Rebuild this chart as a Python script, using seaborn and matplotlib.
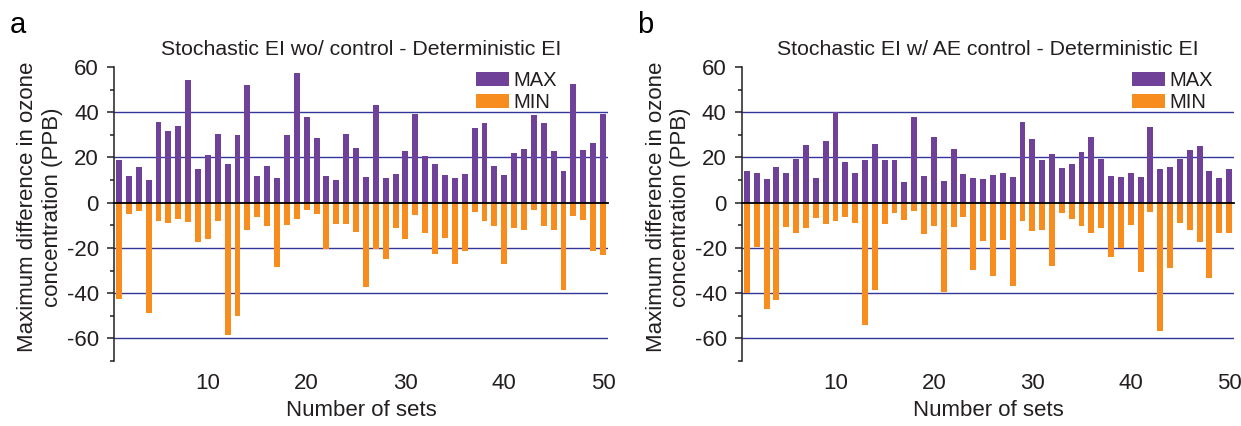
import numpy as np
import pandas as pd
import seaborn as sns
import matplotlib.pyplot as plt
from matplotlib.ticker import MultipleLocator

# Values (PPB), sets 1..50
sets = list(range(1, 51))

max_wo = [18.7, 11.9, 15.7, 10.1, 35.6, 31.6, 33.9, 54.1, 14.8, 21.0,
          30.2, 17.0, 29.8, 52.1, 12.0, 16.1, 10.7, 29.8, 57.2, 37.9,
          28.6, 12.0, 10.1, 30.4, 24.1, 11.4, 43.1, 10.8, 12.9, 22.8,
          39.3, 20.6, 17.0, 12.1, 10.7, 12.6, 33.0, 35.4, 16.4, 12.1,
          21.8, 23.9, 38.7, 35.3, 22.8, 13.9, 52.3, 23.1, 26.2, 39.1]
min_wo = [-42.8, -5.2, -3.7, -48.9, -8.0, -9.0, -7.0, -8.7, -17.5, -16.1,
          -8.0, -58.4, -50.1, -12.0, -6.3, -10.1, -28.6, -9.9, -7.0, -3.4,
          -5.2, -20.3, -9.3, -9.6, -12.9, -37.2, -20.3, -24.9, -11.4, -15.9,
          -5.3, -13.2, -22.8, -15.7, -27.3, -21.5, -4.3, -8.1, -10.2, -27.0,
          -11.1, -11.9, -3.3, -10.4, -11.9, -38.4, -6.1, -7.7, -21.3, -23.0]

max_ae = [13.8, 13.3, 10.5, 15.7, 13.0, 19.4, 25.3, 11.1, 27.4, 40.1,
          17.9, 13.2, 18.8, 25.9, 18.8, 18.7, 9.2, 38.1, 12.0, 29.0,
          9.6, 23.6, 12.9, 10.8, 10.4, 12.1, 13.0, 11.3, 35.6, 28.1,
          18.7, 21.5, 15.4, 16.9, 22.2, 28.9, 19.4, 11.6, 11.4, 13.2,
          11.3, 33.3, 14.8, 16.0, 19.4, 23.3, 25.2, 13.8, 11.0, 14.8]
min_ae = [-40.1, -19.4, -47.1, -43.1, -10.7, -13.6, -11.0, -6.7, -9.5, -8.1,
          -6.4, -8.9, -53.9, -38.8, -9.5, -4.6, -7.6, -3.7, -13.8, -10.2,
          -39.3, -10.7, -6.4, -29.9, -16.9, -32.3, -16.4, -36.7, -8.1, -12.7,
          -12.1, -27.9, -4.6, -7.0, -10.2, -13.2, -11.0, -23.9, -20.1, -9.9,
          -30.8, -4.1, -56.7, -29.0, -8.9, -11.9, -17.6, -33.2, -13.6, -13.5]

titles = ["Stochastic EI wo/ control - Deterministic EI",
          "Stochastic EI w/ AE control - Deterministic EI"]
panel_letters = ["a", "b"]
yticks = [-60, -40, -20, 0, 20, 40, 60]
xticklabels = [10, 20, 30, 40, 50]

purple = "#6f4199"
orange = "#f78c1f"
grid_col = "#33379a"
txt = "#231f20"

sns.set_theme(style="ticks")
plt.rcParams["font.family"] = ["Liberation Sans", "DejaVu Sans"]
plt.rcParams["axes.unicode_minus"] = False

fig = plt.figure(figsize=(12.41, 4.26), dpi=100)
axes = [fig.add_axes([0.0919, 0.1526, 0.3980, 0.6901]),
        fig.add_axes([0.5979, 0.1526, 0.3965, 0.6901])]
legend_x = [0.733, 0.792]

for i, (ax, mx, mn) in enumerate(zip(axes, [max_wo, max_ae], [min_wo, min_ae])):
    df = pd.DataFrame({
        "set": sets * 2,
        "value": mx + mn,
        "kind": ["MAX"] * len(sets) + ["MIN"] * len(sets),
    })
    sns.barplot(data=df, x="set", y="value", hue="kind",
                palette={"MAX": purple, "MIN": orange},
                native_scale=True, dodge=False, width=0.6,
                saturation=1, errorbar=None, linewidth=0, ax=ax)

    ax.set_xlim(0.5, 50.5)
    ax.set_ylim(-70, 60)
    for v in yticks[:-1]:
        if v != 0:
            ax.axhline(v, color=grid_col, lw=1.0, zorder=0.5)

    # y axis
    ax.set_yticks(yticks)
    ax.yaxis.set_minor_locator(MultipleLocator(10))
    ax.tick_params(axis="y", which="major", direction="out", length=5,
                   width=1.1, pad=6, labelsize=16, colors=txt)
    ax.tick_params(axis="y", which="minor", direction="out", length=3,
                   width=1.1, color=txt)
    ax.spines["left"].set_color(txt)
    ax.spines["left"].set_linewidth(1.1)
    ax.spines["top"].set_visible(False)
    ax.spines["right"].set_visible(False)

    # zero line with small ticks every 5 sets
    ax.spines["bottom"].set_position(("data", 0))
    ax.spines["bottom"].set_color("black")
    ax.spines["bottom"].set_linewidth(1.3)
    ax.set_xticks(range(5, 51, 5))
    ax.tick_params(axis="x", direction="out", length=5, width=1.3,
                   color="black", labelbottom=False)
    ax.set_xlabel("")

    # tick labels and x label at the bottom of the panel
    sec = ax.secondary_xaxis("bottom")
    sec.set_xticks(xticklabels)
    sec.spines["bottom"].set_visible(False)
    sec.tick_params(axis="x", length=0, pad=9, labelsize=16, colors=txt)
    sec.set_xlabel("Number of sets", fontsize=16, color=txt, labelpad=4)

    ax.set_ylabel("Maximum difference in ozone\nconcentration (PPB)",
                  fontsize=16, color=txt)
    ax.yaxis.set_label_coords(-0.104, 0.524)
    ax.set_title(titles[i], fontsize=15.3, color=txt, pad=9)

    ax.legend(loc="upper left", bbox_to_anchor=(legend_x[i], 0.985),
              frameon=False, fontsize=14.5, handlelength=1.65,
              handleheight=0.7, handletextpad=0.2, labelspacing=0.12,
              borderaxespad=0, borderpad=0, labelcolor=txt)

fig.text(10 / 1241, 1 - 33 / 426, panel_letters[0], fontsize=21,
         color="black", va="baseline")
fig.text(637 / 1241, 1 - 33 / 426, panel_letters[1], fontsize=21,
         color="black", va="baseline")

fig.savefig("out.png", dpi=100)
